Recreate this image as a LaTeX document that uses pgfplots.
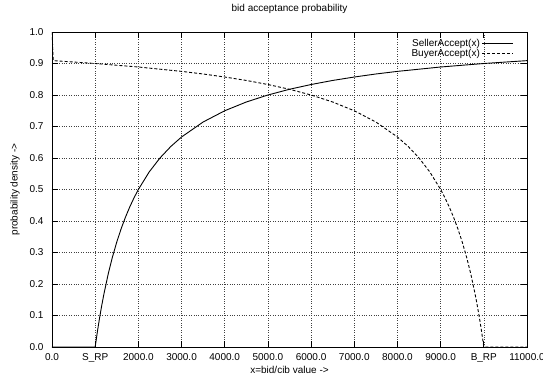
\documentclass[border=0pt]{standalone}
\usepackage{fontspec}
\setmainfont{Liberation Sans}
\usepackage{pgfplots}
\pgfplotsset{compat=1.18}
\begin{document}
\begin{tikzpicture}
\begin{axis}[
  scale only axis, width=475pt, height=315pt,
  xmin=0, xmax=11000, ymin=0, ymax=1,
  font=\fontsize{10}{12}\selectfont,
  xtick={0,1000,2000,3000,4000,5000,6000,7000,8000,9000,10000,11000},
  xticklabels={0.0,S\_RP,2000.0,3000.0,4000.0,5000.0,6000.0,7000.0,8000.0,9000.0,B\_RP,11000.0},
  ytick={0,0.1,0.2,0.3,0.4,0.5,0.6,0.7,0.8,0.9,1.0},
  yticklabels={0.0,0.1,0.2,0.3,0.4,0.5,0.6,0.7,0.8,0.9,1.0},
  scaled x ticks=false,
  tick align=inside, major tick length=6pt,
  tick style={black, line width=0.8pt},
  axis line style={black, line width=0.8pt},
  grid=major, grid style={black!75, dotted, line width=0.6pt},
  yticklabel style={xshift=-5pt},
  xticklabel style={yshift=-3pt},
  title={bid acceptance probability},
  title style={at={(axis description cs:0.5,1.054)}, anchor=center, font=\fontsize{10}{12}\selectfont},
  xlabel={x=bid/cib value ->},
  xlabel style={at={(axis description cs:0.5,-0.073)}, anchor=center},
  ylabel={probability density ->},
  ylabel style={at={(axis description cs:-0.078,0.5)}, anchor=center, rotate=0},
  legend plot pos=right,
  legend cell align=right,
  legend image code/.code={\draw[#1] (0pt,0pt) -- (31pt,0pt);},
  legend style={draw=none, fill=none, at={(axis description cs:1,1)}, anchor=north east,
    xshift=-10pt, yshift=-3pt, row sep=-3pt, font=\fontsize{10}{12}\selectfont},
]
\addplot[black, line width=0.9pt] coordinates {
 (0,0) (1000,0) (1050,0.0476) (1100,0.0909) (1150,0.1304) (1200,0.1667) (1300,0.2308)
 (1400,0.2857) (1500,0.3333) (1600,0.375) (1700,0.4118) (1800,0.4444) (1900,0.4737) (2000,0.5) (2250,0.5556)
 (2500,0.6) (2750,0.6364) (3000,0.6667) (3500,0.7143) (4000,0.75) (4500,0.7778)
 (5000,0.8) (5500,0.8182) (6000,0.8333) (6500,0.8462) (7000,0.8571) (7500,0.8667) (8000,0.875) (9000,0.8889)
 (10000,0.9) (11000,0.9091)
};
\addlegendentry{SellerAccept(x)}
\addplot[black, line width=0.9pt, dash pattern=on 3pt off 2pt] coordinates {
 (0,1.0) (30,0.9091) (1000,0.9) (2000,0.8889) (3000,0.875) (3500,0.8667) (4000,0.8571) (4500,0.8462)
 (5000,0.8333) (5500,0.8182) (6000,0.8) (6500,0.7778) (7000,0.75) (7500,0.7143)
 (8000,0.6667) (8250,0.6364) (8500,0.6) (8750,0.5556) (9000,0.5) (9100,0.4737) (9200,0.4444) (9300,0.4118)
 (9400,0.375) (9500,0.3333) (9600,0.2857) (9700,0.2308) (9800,0.1667) (9850,0.1304)
 (9900,0.0909) (9950,0.0476) (10000,0) (11000,0)
};
\addlegendentry{BuyerAccept(x)}
\end{axis}
\pgfresetboundingbox
\path (-52pt,-29pt) rectangle (491pt,347pt);
\end{tikzpicture}
\end{document}
